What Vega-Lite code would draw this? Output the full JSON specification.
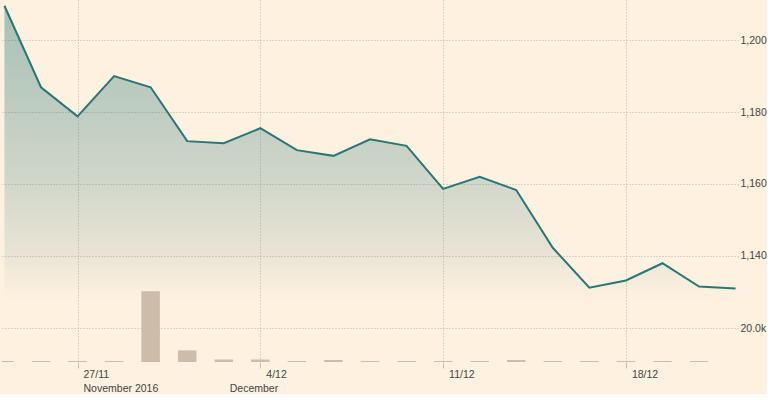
{
  "$schema": "https://vega.github.io/schema/vega-lite/v6.json",
  "width": 736,
  "height": 362,
  "autosize": {"type": "pad"},
  "padding": 0,
  "background": "#fff1e0",
  "config": {
    "view": {"stroke": null},
    "axis": {
      "labelFont": "Liberation Sans",
      "labelFontSize": 10.5,
      "labelColor": "#444444",
      "domain": false,
      "gridColor": "#bdb2a5",
      "gridDash": [1, 2],
      "gridWidth": 1,
      "labelOverlap": false,
      "labelFlush": false,
      "title": null
    }
  },
  "data": {
    "values": [
      {"date": "2016-11-24", "price": 1209.6, "volume": 600},
      {"date": "2016-11-25", "price": 1186.9, "volume": 600},
      {"date": "2016-11-28", "price": 1178.8, "volume": 600},
      {"date": "2016-11-29", "price": 1190.0, "volume": 600},
      {"date": "2016-11-30", "price": 1186.9, "volume": 42000},
      {"date": "2016-12-01", "price": 1171.9, "volume": 6900},
      {"date": "2016-12-02", "price": 1171.3, "volume": 1500},
      {"date": "2016-12-05", "price": 1175.5, "volume": 1500},
      {"date": "2016-12-06", "price": 1169.4, "volume": 600},
      {"date": "2016-12-07", "price": 1167.8, "volume": 1200},
      {"date": "2016-12-08", "price": 1172.4, "volume": 600},
      {"date": "2016-12-09", "price": 1170.6, "volume": 600},
      {"date": "2016-12-12", "price": 1158.6, "volume": 600},
      {"date": "2016-12-13", "price": 1162.0, "volume": 600},
      {"date": "2016-12-14", "price": 1158.3, "volume": 1200},
      {"date": "2016-12-15", "price": 1142.2, "volume": 600},
      {"date": "2016-12-16", "price": 1131.1, "volume": 600},
      {"date": "2016-12-19", "price": 1133.1, "volume": 600},
      {"date": "2016-12-20", "price": 1137.9, "volume": 600},
      {"date": "2016-12-21", "price": 1131.4, "volume": 600},
      {"date": "2016-12-22", "price": 1130.9, "volume": 0}
    ]
  },
  "layer": [
    {
      "layer": [
        {
          "mark": {
            "type": "area",
            "clip": true,
            "color": {
              "gradient": "linear",
              "x1": 0, "y1": 0, "x2": 0, "y2": 1,
              "stops": [
                {"offset": 0, "color": "rgba(39,119,120,0.40)"},
                {"offset": 0.26, "color": "rgba(39,119,120,0.31)"},
                {"offset": 0.5, "color": "rgba(39,119,120,0.21)"},
                {"offset": 0.7, "color": "rgba(39,119,120,0.10)"},
                {"offset": 0.77, "color": "rgba(39,119,120,0.04)"},
                {"offset": 0.83, "color": "rgba(39,119,120,0)"},
                {"offset": 1, "color": "rgba(39,119,120,0)"}
              ]
            }
          },
          "encoding": {
            "y2": {"datum": 1110.4}
          }
        },
        {"mark": {"type": "line", "color": "#277778", "strokeWidth": 2}}
      ],
      "encoding": {
        "x": {
          "field": "date",
          "type": "ordinal",
          "sort": null,
          "scale": {"type": "point", "padding": 0.066},
          "axis": {
            "orient": "bottom",
            "values": ["2016-11-28", "2016-12-05", "2016-12-12", "2016-12-19"],
            "labelExpr": "datum.value == '2016-11-28' ? '27/11' : datum.value == '2016-12-05' ? '4/12' : datum.value == '2016-12-12' ? '11/12' : '18/12'",
            "labelAlign": "left",
            "labelOffset": 5.5,
            "labelPadding": 1,
            "labelAngle": 0,
            "grid": true,
            "ticks": true,
            "tickSize": 6,
            "tickColor": "#c8bfb3"
          }
        },
        "y": {
          "field": "price",
          "type": "quantitative",
          "scale": {"domain": [1110.4, 1211.2], "zero": false, "nice": false},
          "axis": {
            "orient": "right",
            "values": [1140, 1160, 1180, 1200],
            "format": ",.0f",
            "grid": true,
            "ticks": false,
            "tickSize": 0,
            "labelPadding": 2
          }
        }
      }
    },
    {
      "mark": {"type": "bar", "color": "#cdbcaa", "width": 18.5, "clip": true},
      "encoding": {
        "x": {
          "field": "date",
          "type": "ordinal",
          "sort": null,
          "scale": {"type": "point", "padding": 0.066},
          "axis": {
            "orient": "bottom",
            "values": ["2016-11-28", "2016-12-02"],
            "labelExpr": "datum.value == '2016-11-28' ? 'November 2016' : 'December'",
            "labelAlign": "left",
            "labelOffset": 5.5,
            "labelPadding": 21,
            "labelAngle": 0,
            "grid": false,
            "ticks": false,
            "tickSize": 0
          }
        },
        "y": {
          "field": "volume",
          "type": "quantitative",
          "scale": {"domain": [0, 214800], "nice": false},
          "axis": {
            "orient": "right",
            "values": [20000],
            "format": ".3s",
            "grid": true,
            "ticks": false,
            "tickSize": 0,
            "labelPadding": 2
          }
        }
      }
    }
  ],
  "resolve": {
    "scale": {"y": "independent"},
    "axis": {"x": "independent", "y": "independent"}
  }
}
